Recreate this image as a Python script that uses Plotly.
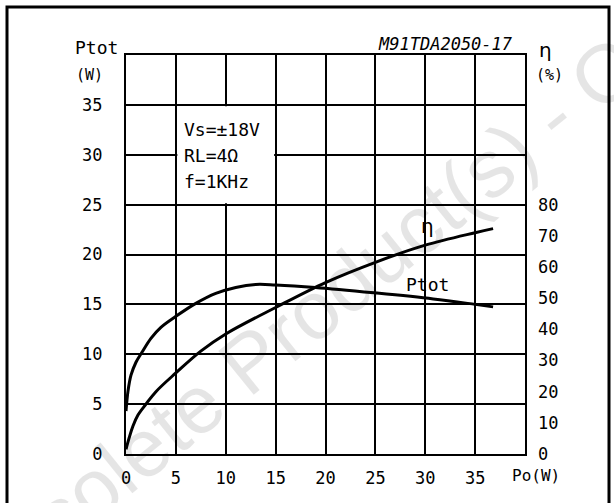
import plotly.graph_objects as go

# ---- data ----
po_ptot = [0, 0.2, 0.5, 1, 1.6, 2.5, 3.5, 5, 7, 9, 11, 13, 15, 19, 25, 30.8, 35, 36.8]
ptot_w = [4.3, 6.3, 7.9, 9.2, 10.2, 11.6, 12.7, 13.8, 15.1, 16.1, 16.7, 17.0, 16.95, 16.7, 16.15, 15.55, 15.0, 14.75]

po_eff = [0, 0.3, 0.7, 1.2, 2, 3, 5, 7.5, 10, 15, 20, 25, 30, 35, 36.8]
eff_pct = [1.5, 5, 9, 12.5, 16, 20, 26, 33, 38.5, 47, 55, 61.5, 67, 71, 72.3]

x_ticks = [0, 5, 10, 15, 20, 25, 30, 35]
y_ticks = [0, 5, 10, 15, 20, 25, 30, 35]
y2_ticks = [0, 10, 20, 30, 40, 50, 60, 70, 80]

FONT = "DejaVu Sans Mono"
W, H = 614, 503
L, R, T, B = 126, 525, 55, 454

fig = go.Figure()
fig.add_trace(go.Scatter(x=po_ptot, y=ptot_w, mode="lines", line=dict(color="black", width=3, shape="spline"),
                         showlegend=False, hoverinfo="skip"))
fig.add_trace(go.Scatter(x=po_eff, y=eff_pct, mode="lines", yaxis="y2",
                         line=dict(color="black", width=3, shape="spline"),
                         showlegend=False, hoverinfo="skip"))

tickfont = dict(family=FONT, size=17, color="black")
fig.update_layout(
    width=W, height=H,
    margin=dict(l=L, r=W - R, t=T, b=H - B),
    paper_bgcolor="white", plot_bgcolor="white",
    font=dict(family=FONT, color="black"),
    xaxis=dict(range=[0, 40], tickvals=x_ticks, ticktext=[str(v) for v in x_ticks],
               showgrid=True, gridcolor="black", gridwidth=2, zeroline=False,
               showline=True, linecolor="black", linewidth=2, mirror=True,
               ticks="", tickfont=tickfont, ticklabelstandoff=8, fixedrange=True),
    yaxis=dict(range=[0, 40], tickvals=y_ticks + [40], ticktext=[str(v) for v in y_ticks] + [""],
               showgrid=True, gridcolor="black", gridwidth=2, zeroline=False,
               showline=True, linecolor="black", linewidth=2, mirror=True,
               ticks="", tickfont=tickfont, ticklabelstandoff=18, fixedrange=True),
    yaxis2=dict(range=[0, 128], overlaying="y", side="right", tickvals=y2_ticks,
                ticktext=[str(v) for v in y2_ticks], showgrid=False, zeroline=False,
                showline=False, ticks="", tickfont=tickfont, ticklabelstandoff=12, fixedrange=True),
)

# white box behind the conditions text (hides grid inside)
fig.add_shape(type="rect", xref="x", yref="y", x0=5.15, x1=14.85, y0=25.15, y1=34.85,
              fillcolor="white", line=dict(width=0), layer="above")

# outer frame
fig.add_shape(type="rect", xref="paper", yref="paper",
              x0=(7 - L) / (R - L), x1=(609 - L) / (R - L),
              y0=(B - 530) / (B - T), y1=(B - 7) / (B - T),
              line=dict(color="black", width=3), fillcolor="rgba(0,0,0,0)")

def px(xp):
    return (xp - L) / (R - L)

def py(yp):
    return (B - yp) / (B - T)

ann = []
ann.append(dict(text="Ptot", x=px(96), y=py(47), xref="paper", yref="paper", showarrow=False,
                font=dict(family=FONT, size=18), xanchor="center", yanchor="middle"))
ann.append(dict(text="(W)", x=px(89), y=py(75), xref="paper", yref="paper", showarrow=False,
                font=dict(family=FONT, size=15), xanchor="center", yanchor="middle"))
ann.append(dict(text="η", x=px(545), y=py(50), xref="paper", yref="paper", showarrow=False,
                font=dict(family="DejaVu Sans", size=20), xanchor="center", yanchor="middle"))
ann.append(dict(text="(%)", x=px(549), y=py(75), xref="paper", yref="paper", showarrow=False,
                font=dict(family=FONT, size=15), xanchor="center", yanchor="middle"))
ann.append(dict(text="<i>M91TDA2050-17</i>", x=px(515), y=py(44), xref="paper", yref="paper",
                showarrow=False, font=dict(family=FONT, size=17), xanchor="right", yanchor="middle"))
ann.append(dict(text="Po(W)", x=px(536), y=py(475), xref="paper", yref="paper", showarrow=False,
                font=dict(family=FONT, size=16), xanchor="center", yanchor="middle"))
for i, t in enumerate(["Vs=±18V", "RL=4Ω", "f=1KHz"]):
    ann.append(dict(text=t, x=px(182), y=py(129 + 26 * i), xref="paper", yref="paper",
                    showarrow=False, font=dict(family=FONT, size=18), xanchor="left", yanchor="middle"))
ann.append(dict(text="Ptot", x=30.2, y=17.0, xref="x", yref="y", showarrow=False,
                font=dict(family=FONT, size=18), xanchor="center", yanchor="middle"))
ann.append(dict(text="η", x=30.2, y=22.9, xref="x", yref="y", showarrow=False,
                font=dict(family="DejaVu Sans", size=20), xanchor="center", yanchor="middle"))
# watermark
ann.append(dict(text="Obsolete Product(s) - Obsolete Product(s)", x=px(552), y=py(116),
                xref="paper", yref="paper", showarrow=False, textangle=-39,
                font=dict(family="Liberation Sans", size=82, color="rgba(0,0,0,0.10)"),
                xanchor="center", yanchor="middle"))
fig.update_layout(annotations=ann)

fig.write_html("out.html", config={"displayModeBar": False},
               post_script="document.body.style.margin='0';document.body.style.overflow='hidden';")
